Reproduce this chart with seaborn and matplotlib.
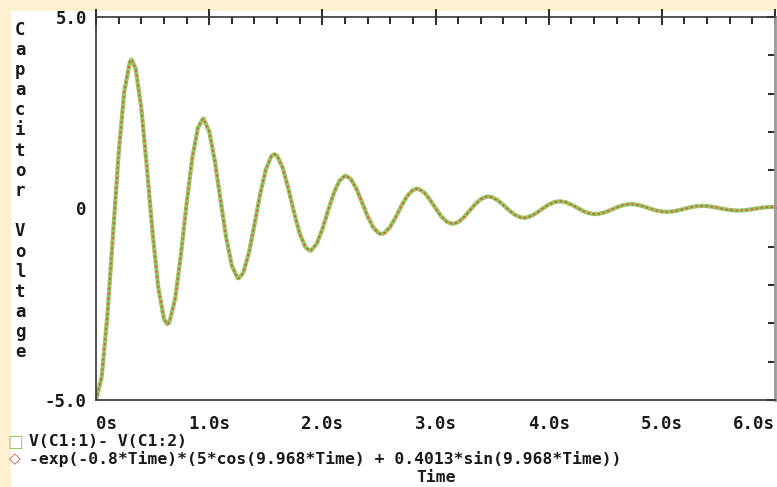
import matplotlib
matplotlib.use("Agg")
import matplotlib.pyplot as plt
import seaborn as sns
import pandas as pd
from matplotlib.patches import Rectangle
from matplotlib.ticker import MultipleLocator

# time samples (s) and capacitor voltage (V)
time_s = [i * 0.05 for i in range(121)]
voltage = [
    -5.000, -4.404, -2.817, -0.690, 1.436, 3.061, 3.841, 3.657, 2.626, 1.057,
    -0.640, -2.056, -2.880, -2.962, -2.341, -1.217, 0.107, 1.304, 2.102, 2.344,
    2.016, 1.239, 0.230, -0.755, -1.488, -1.813, -1.687, -1.174, -0.424, 0.368,
    1.013, 1.370, 1.377, 1.059, 0.517, -0.105, -0.655, -1.008, -1.097, -0.921,
    -0.542, -0.064, 0.392, 0.720, 0.854, 0.777, 0.523, 0.165, -0.204, -0.497,
    -0.650, -0.639, -0.478, -0.217, 0.075, 0.327, 0.482, 0.512, 0.420, 0.235,
    0.010, -0.201, -0.348, -0.402, -0.357, -0.232, -0.061, 0.110, 0.243, 0.308,
    0.296, 0.215, 0.090, -0.047, -0.162, -0.230, -0.239, -0.191, -0.101, 0.005,
    0.102, 0.167, 0.189, 0.164, 0.102, 0.021, -0.058, -0.118, -0.145, -0.136,
    -0.096, -0.036, 0.028, 0.080, 0.110, 0.111, 0.086, 0.043, -0.007, -0.051,
    -0.080, -0.088, -0.075, -0.045, -0.006, 0.030, 0.057, 0.069, 0.063, 0.043,
    0.014, -0.015, -0.039, -0.052, -0.052, -0.039, -0.018, 0.005, 0.026, 0.038,
    0.041,
]
# peaks and troughs of the ringing
peak_time = [0.315, 0.630, 0.946, 1.261, 1.576, 1.891, 2.206, 2.521, 2.837, 3.152,
             3.467, 3.782, 4.097, 4.412, 4.728, 5.043, 5.358, 5.673, 5.988]
peak_volt = [3.886, -3.020, 2.347, -1.824, 1.417, -1.102, 0.856, -0.665, 0.517, -0.402,
             0.312, -0.243, 0.189, -0.147, 0.114, -0.089, 0.069, -0.054, 0.042]

x_ticks = [0, 1, 2, 3, 4, 5, 6]
x_labels = ["0s", "1.0s", "2.0s", "3.0s", "4.0s", "5.0s", "6.0s"]
y_ticks = [-5, 0, 5]
y_labels = ["-5.0", "0", "5.0"]
legend_texts = ["V(C1:1)- V(C1:2)",
                "-exp(-0.8*Time)*(5*cos(9.968*Time) + 0.4013*sin(9.968*Time))"]
ylabel_text = "Capacitor Voltage"

df = pd.concat([pd.DataFrame({"Time": time_s, "V": voltage}),
                pd.DataFrame({"Time": peak_time, "V": peak_volt})])
df = df.sort_values("Time").reset_index(drop=True)

sns.set_style("white")
plt.rcParams["font.family"] = ["DejaVu Sans Mono", "DejaVu Sans"]
plt.rcParams["font.weight"] = "bold"

cream = "#fdf0d0"
green = "#96c65c"
red = "#d8584a"
ink = "#1a1a1a"
fs = 12.5
fs_leg = 11.8

fig = plt.figure(figsize=(7.77, 4.87), dpi=100, facecolor=cream)
fig.patches.append(Rectangle((11 / 777, 0), 1, 1 - 11 / 487, transform=fig.transFigure,
                             facecolor="white", edgecolor="none", zorder=-5))
ax = fig.add_axes([96 / 777, 1 - 400 / 487, 679 / 777, 383 / 487])
ax.set_zorder(2)
ax.set_facecolor("white")

sns.lineplot(data=df, x="Time", y="V", ax=ax, color=green, linewidth=3.0, sort=False)
sns.lineplot(data=df, x="Time", y="V", ax=ax, color=red, linewidth=1.3, sort=False,
             linestyle=(0, (1.2, 1.6)))
for ln in ax.get_lines():
    ln.set_solid_joinstyle("round")
    ln.set_dash_joinstyle("round")

ax.set_xlim(0, 6)
ax.set_ylim(-5, 5)
ax.set_xticks(x_ticks)
ax.set_xticklabels(x_labels)
ax.set_yticks(y_ticks)
ax.set_yticklabels(y_labels)
ax.xaxis.set_minor_locator(MultipleLocator(0.2))
ax.yaxis.set_minor_locator(MultipleLocator(1))
ax.tick_params(axis="both", which="minor", direction="in", top=True, right=True,
               length=5, width=1.3, colors=ink)
ax.tick_params(axis="both", which="major", direction="inout", top=True, right=True,
               length=11, width=1.3, colors=ink, labelsize=fs)
ax.tick_params(axis="x", which="major", pad=5)
ax.tick_params(axis="y", which="major", pad=1)
for lbl in ax.get_xticklabels() + ax.get_yticklabels():
    lbl.set_fontweight("bold")
ax.get_xticklabels()[0].set_horizontalalignment("left")
ax.get_xticklabels()[-1].set_horizontalalignment("right")
ax.set_xlabel("")
ax.set_ylabel("")
for side in ["left", "bottom", "top"]:
    ax.spines[side].set_color("#333333")
    ax.spines[side].set_linewidth(1.2)
ax.spines["right"].set_color("#999999")
ax.spines["right"].set_linewidth(2)

# stacked vertical axis title
fig.text(20 / 777, 1 - 191 / 487, "\n".join(ylabel_text), ha="center", va="center",
         fontsize=fs, fontweight="bold", linespacing=1.155, color=ink)

# legend rows
fig.text(15 / 777, 1 - 442 / 487, "\u25a1", color=green, fontsize=12, ha="center", va="center",
         family="DejaVu Sans")
fig.text(29 / 777, 1 - 442 / 487, legend_texts[0], fontsize=fs_leg, fontweight="bold",
         va="center", color=ink)
fig.text(15 / 777, 1 - 459 / 487, "\u25c7", color=red, fontsize=11, ha="center", va="center",
         family="DejaVu Sans")
fig.text(29 / 777, 1 - 459 / 487, legend_texts[1], fontsize=fs_leg, fontweight="bold",
         va="center", color=ink)
fig.text(436 / 777, 1 - 477 / 487, "Time", fontsize=fs_leg, fontweight="bold",
         ha="center", va="center", color=ink)

fig.savefig("out.png", dpi=100, facecolor=cream)
